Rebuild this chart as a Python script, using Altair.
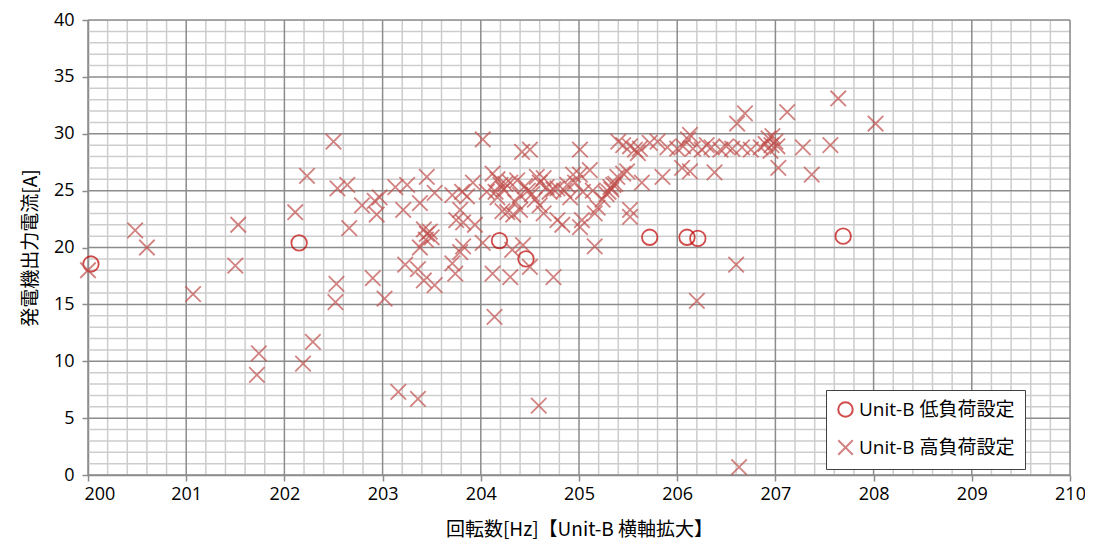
import altair as alt
import pandas as pd

# ---- data ----
series = ["Unit-B 低負荷設定", "Unit-B 高負荷設定"]

low_x = [200.03, 202.15, 204.19, 204.46, 205.72, 206.10, 206.21, 207.69]
low_y = [18.55, 20.4, 20.6, 19.0, 20.9, 20.9, 20.8, 21.0]

high_x = [
    200.00, 200.48, 200.60, 201.07, 201.53, 201.50, 201.74, 201.72,
    202.11, 202.23, 202.19, 202.29, 202.50, 202.54, 202.64, 202.66, 202.53, 202.52,
    202.79, 202.92, 202.94, 202.97, 202.90, 203.02,
    203.13, 203.25, 203.21, 203.38, 203.45, 203.53, 203.71, 203.81, 203.86, 203.92,
    203.79, 203.75, 203.82, 203.94, 203.42, 203.45, 203.48, 203.50, 203.44, 203.38,
    203.82, 203.79, 203.23, 203.36, 203.71, 203.74, 203.42, 203.53, 203.16, 203.36,
    204.02, 204.42, 204.50, 204.12, 204.17, 204.06, 204.17, 204.23, 204.30, 204.37,
    204.27, 204.33, 204.22, 204.40, 204.57, 204.60, 204.67, 204.74, 204.55, 204.60,
    204.64, 204.78, 204.02, 204.32, 204.43, 204.50, 204.12, 204.30, 204.74, 204.14,
    204.59, 204.45, 204.48, 204.52, 204.40, 204.15, 204.20, 204.35, 204.25, 204.64,
    204.78, 204.70, 204.85, 204.91, 204.83, 204.94, 204.88, 204.96,
    205.01, 205.01, 205.11, 205.04, 205.14, 205.24, 205.19, 205.16, 205.03, 205.01,
    205.16, 205.30, 205.32, 205.35, 205.37, 205.39, 205.33, 205.28, 205.49, 205.40,
    205.45, 205.52, 205.57, 205.62, 205.72, 205.80, 205.64, 205.85, 205.52, 205.52,
    205.60, 205.90, 205.45,
    206.00, 206.06, 206.11, 206.13, 206.05, 206.13, 206.16, 206.25, 206.30, 206.35,
    206.38, 206.44, 206.50, 206.56, 206.61, 206.69, 206.66, 206.75, 206.85, 206.90,
    206.93, 206.96, 207.00, 206.97, 207.02, 206.95, 206.20, 206.60, 206.63, 207.03,
    207.12, 207.28, 207.37, 207.56, 207.64, 208.02,
]
high_y = [
    18.0, 21.5, 20.0, 15.9, 22.0, 18.4, 10.7, 8.8,
    23.1, 26.3, 9.8, 11.7, 29.3, 25.2, 25.5, 21.7, 16.8, 15.2,
    23.7, 24.1, 22.9, 24.4, 17.3, 15.5,
    25.3, 25.5, 23.3, 23.9, 26.2, 24.8, 24.6, 24.9, 24.5, 25.7,
    23.3, 22.4, 22.2, 22.0, 21.6, 21.2, 21.4, 20.9, 20.7, 20.0,
    20.1, 19.6, 18.5, 18.1, 18.6, 17.7, 17.1, 16.7, 7.3, 6.7,
    29.5, 28.4, 28.6, 26.5, 26.0, 24.9, 24.4, 25.1, 25.7, 25.9,
    23.1, 22.9, 23.2, 23.3, 26.2, 25.7, 25.3, 25.1, 24.2, 23.7,
    23.0, 22.4, 20.4, 19.8, 20.2, 18.3, 17.7, 17.4, 17.4, 13.9,
    6.1, 25.4, 25.0, 24.7, 24.6, 24.9, 25.5, 24.0, 25.6, 26.1,
    25.2, 24.9, 25.0, 24.4, 22.0, 26.4, 25.5, 25.7,
    28.6, 26.4, 26.8, 24.9, 25.0, 24.2, 23.5, 23.0, 22.4, 21.8,
    20.1, 24.9, 25.3, 25.5, 25.6, 26.2, 25.1, 24.7, 26.7, 29.3,
    29.0, 28.9, 28.6, 28.7, 29.2, 29.3, 25.7, 26.2, 22.7, 23.3,
    28.3, 28.8, 26.5,
    28.7, 28.9, 29.5, 29.9, 27.0, 26.7, 28.7, 28.6, 29.0, 28.8,
    26.6, 28.6, 28.9, 28.7, 30.9, 31.8, 28.8, 28.6, 28.8, 29.1,
    29.6, 29.0, 29.3, 29.8, 28.9, 28.5, 15.3, 18.5, 0.7, 27.0,
    31.9, 28.8, 26.4, 29.0, 33.1, 30.9,
]

x_ticks = list(range(200, 211))
y_ticks = list(range(0, 41, 5))
minor_x = [round(200 + i * 0.2, 1) for i in range(51) if i % 5 != 0]
minor_y = [v for v in range(0, 41) if v % 5 != 0]

x_title = "回転数[Hz]【Unit-B 横軸拡大】"
y_title = "発電機出力電流[A]"

df = pd.DataFrame({
    "x": low_x + high_x,
    "y": low_y + high_y,
    "s": [series[0]] * len(low_x) + [series[1]] * len(high_x),
})

NUMFONT = "Open Sans, Noto Sans CJK JP"
FONT = "Noto Sans CJK JP"
xs = alt.Scale(domain=[200, 210], nice=False, zero=False)
ys = alt.Scale(domain=[0, 40], nice=False)

xaxis = alt.Axis(
    values=x_ticks, title=x_title, grid=False, format="d",
    labelFont=NUMFONT, labelFontSize=18, labelColor="#000000", labelPadding=4,
    labelAlign={"condition": {"test": "datum.value == 200", "value": "left"}, "value": "center"},
    labelOffset={"condition": {"test": "datum.value == 200", "value": -4}, "value": 0},
    titleFont=FONT, titleFontSize=19, titleFontWeight="normal", titleColor="#000000",
    titlePadding=17, tickSize=6, tickColor="#8C8C8C", domainColor="#8C8C8C",
    domainWidth=1.5, tickWidth=1.5)
yaxis = alt.Axis(
    values=y_ticks, title=y_title, grid=False,
    labelFont=NUMFONT, labelFontSize=18, labelColor="#000000", labelPadding=8,
    titleFont=FONT, titleFontSize=19, titleFontWeight="normal", titleColor="#000000",
    titlePadding=13, tickSize=6, tickColor="#8C8C8C", domainColor="#8C8C8C",
    domainWidth=1.5, tickWidth=1.5)

vminor = alt.Chart(pd.DataFrame({"x": minor_x})).mark_rule(
    color="#CDCDCD", strokeWidth=1.5
).encode(x=alt.X("x:Q", scale=xs, axis=xaxis))
hminor = alt.Chart(pd.DataFrame({"y": minor_y})).mark_rule(
    color="#CDCDCD", strokeWidth=1.5
).encode(y=alt.Y("y:Q", scale=ys, axis=yaxis))
vmajor = alt.Chart(pd.DataFrame({"x": x_ticks})).mark_rule(
    color="#8C8C8C", strokeWidth=1.5
).encode(x=alt.X("x:Q", scale=xs, axis=xaxis))
hmajor = alt.Chart(pd.DataFrame({"y": y_ticks})).mark_rule(
    color="#8C8C8C", strokeWidth=1.5
).encode(y=alt.Y("y:Q", scale=ys, axis=yaxis))

CROSS = "M-1,-1L1,1M-1,1L1,-1"

legend = alt.Legend(title=None, orient="none", legendX=738, legendY=370,
                    direction="vertical", fillColor="#FFFFFF",
                    strokeColor="#404040", padding=10,
                    labelFont=NUMFONT, labelFontSize=19, labelColor="#000000",
                    symbolSize=210, symbolStrokeWidth=2, rowPadding=15,
                    labelOffset=4)

points = alt.Chart(df).mark_point(filled=False, size=240, strokeWidth=1.8).encode(
    x=alt.X("x:Q", scale=xs, axis=xaxis),
    y=alt.Y("y:Q", scale=ys, axis=yaxis),
    color=alt.Color("s:N", scale=alt.Scale(domain=series, range=["#C00000", "#C0504D"]),
                    legend=legend),
    shape=alt.Shape("s:N", scale=alt.Scale(domain=series, range=["circle", CROSS]),
                    legend=legend),
)

chart = alt.layer(vminor, hminor, vmajor, hmajor, points).properties(
    width=982, height=455,
    autosize=alt.AutoSizeParams(type="none"),
    padding={"left": 80, "top": 12, "right": 15, "bottom": 65},
).configure_view(stroke=None).configure(background="#FFFFFF")

chart.save("out.html", embed_options={"renderer": "svg", "actions": False})
